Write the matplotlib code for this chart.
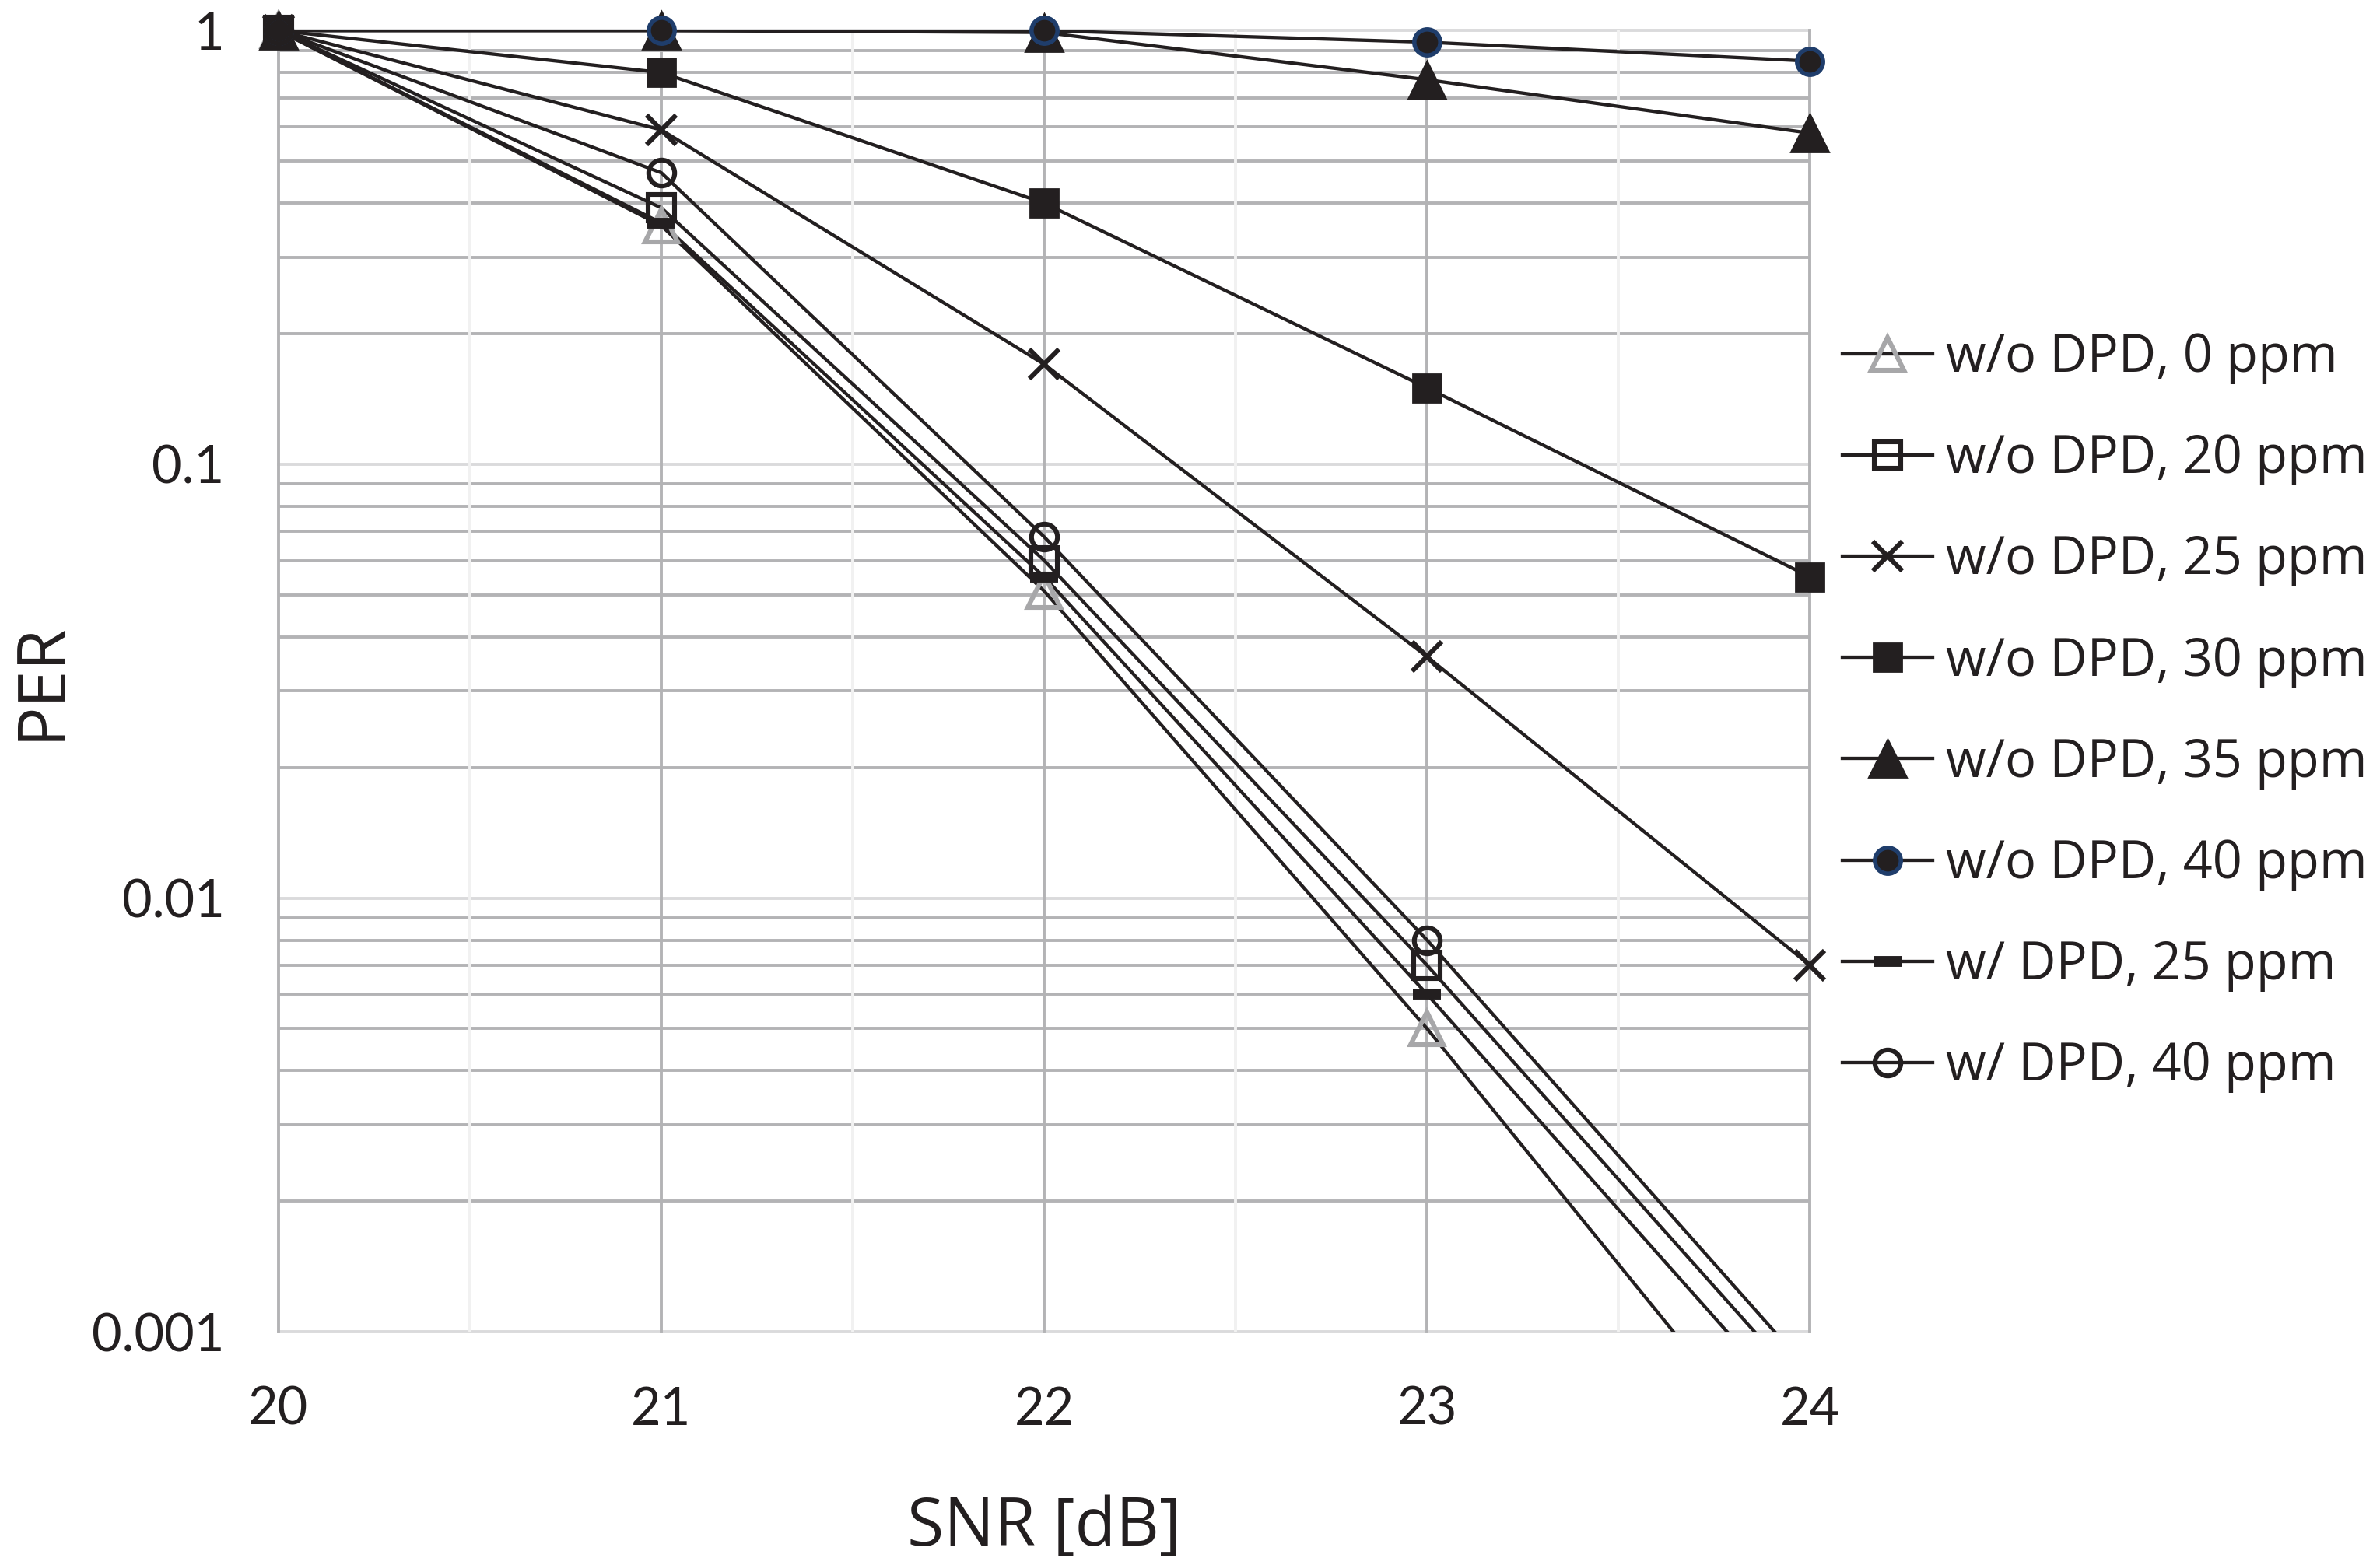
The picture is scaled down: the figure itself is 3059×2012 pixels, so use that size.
import numpy as np
import matplotlib
matplotlib.use("Agg")
from matplotlib import pyplot as plt
from matplotlib.ticker import LogLocator, MultipleLocator, FixedLocator, NullFormatter

snr = [20, 21, 22, 23, 24]

# PER por serie
per_0ppm = [1.0, 0.355, 0.051, 0.005, 0.00041]
per_20ppm = [1.0, 0.39, 0.060, 0.007, 0.00072]
per_25ppm = [1.0, 0.59, 0.17, 0.036, 0.007]
per_30ppm = [1.0, 0.80, 0.40, 0.15, 0.055]
per_35ppm = [1.0, 1.0, 0.99, 0.77, 0.58]
per_40ppm = [1.0, 1.0, 1.0, 0.94, 0.85]
per_dpd_25ppm = [1.0, 0.36, 0.055, 0.006, 0.00061]
per_dpd_40ppm = [1.0, 0.47, 0.068, 0.008, 0.00081]

etiquetas = ["w/o DPD, 0 ppm", "w/o DPD, 20 ppm", "w/o DPD, 25 ppm", "w/o DPD, 30 ppm",
             "w/o DPD, 35 ppm", "w/o DPD, 40 ppm", "w/ DPD, 25 ppm", "w/ DPD, 40 ppm"]

negro = "#231f20"
gris = "#b3b3b5"
gris_claro = "#dadadc"

series = [
    (per_0ppm, dict(marker="^", ms=15, mfc="none", mec="#a7a7a9", mew=2.2)),
    (per_20ppm, dict(marker="s", ms=12, mfc="none", mec=negro, mew=2.2)),
    (per_25ppm, dict(marker="x", ms=14, mec=negro, mew=2.2)),
    (per_30ppm, dict(marker="s", ms=13, mfc=negro, mec=negro, mew=1)),
    (per_35ppm, dict(marker="^", ms=17, mfc=negro, mec=negro, mew=1)),
    (per_40ppm, dict(marker="o", ms=12, mfc=negro, mec="#1f3d6b", mew=2)),
    (per_dpd_25ppm, dict(marker="_", ms=13, mec=negro, mew=5)),
    (per_dpd_40ppm, dict(marker="o", ms=12, mfc="none", mec=negro, mew=2.2)),
]

fig = plt.figure(figsize=(15.295, 10.06), dpi=200)
ax = fig.add_axes([0.117, 0.149, 0.7605 - 0.117, 0.9805 - 0.149])

handles = []
for valores, estilo in series:
    x = np.array(snr)
    y = np.array(valores)
    # la linea se recorta en 0.001, los marcadores no
    linea, = ax.plot(x, y, color=negro, lw=1.55, zorder=3)
    m = y >= 0.001
    marca, = ax.plot(x[m], y[m], ls="none", zorder=4, clip_on=False, **estilo)
    handles.append((linea, marca))

ax.set_yscale("log")
ax.set_xlim(20, 24)
ax.set_ylim(0.001, 1)

ax.xaxis.set_major_locator(FixedLocator(snr))
ax.xaxis.set_minor_locator(MultipleLocator(0.5))
ax.yaxis.set_major_locator(FixedLocator([0.001, 0.01, 0.1, 1]))
ax.yaxis.set_minor_locator(LogLocator(base=10, subs=np.arange(2, 10)))
ax.yaxis.set_minor_formatter(NullFormatter())
ax.set_yticklabels(["0.001", "0.01", "0.1", "1"])

ax.set_axisbelow(True)
ax.grid(True, axis="y", which="major", color=gris_claro, lw=1.4)
ax.grid(True, axis="y", which="minor", color=gris, lw=1.4)
ax.grid(True, axis="x", which="major", color=gris, lw=1.4)
ax.grid(True, axis="x", which="minor", color="#f1f1f1", lw=1.4)
ax.xaxis.set_zorder(0.6)
for g in ax.get_xgridlines() + ax.get_ygridlines():
    g.set_clip_on(False)

for s in ax.spines.values():
    s.set_visible(False)

ax.tick_params(which="both", length=0)
ax.tick_params(axis="y", pad=25, labelsize=24, labelcolor=negro)
ax.tick_params(axis="x", pad=25, labelsize=24, labelcolor=negro)
for t in ax.get_xticklabels() + ax.get_yticklabels():
    t.set_fontfamily("Lato")

ax.set_xlabel("SNR [dB]", fontsize=31, fontfamily="Open Sans", color=negro, labelpad=28)
ax.set_ylabel("PER", fontsize=31, fontfamily="Open Sans", color=negro)
ax.yaxis.set_label_coords(-0.154, 0.5)
ax.yaxis.label.set_va("center")

fig.legend(handles, etiquetas, loc="upper left", bbox_to_anchor=(0.774, 0.788),
           frameon=False, prop={"family": "Open Sans", "size": 24},
           handlelength=1.75, handletextpad=0.25, labelspacing=0.94,
           borderpad=0, borderaxespad=0, labelcolor=negro)

plt.savefig("out.png", dpi=200)
